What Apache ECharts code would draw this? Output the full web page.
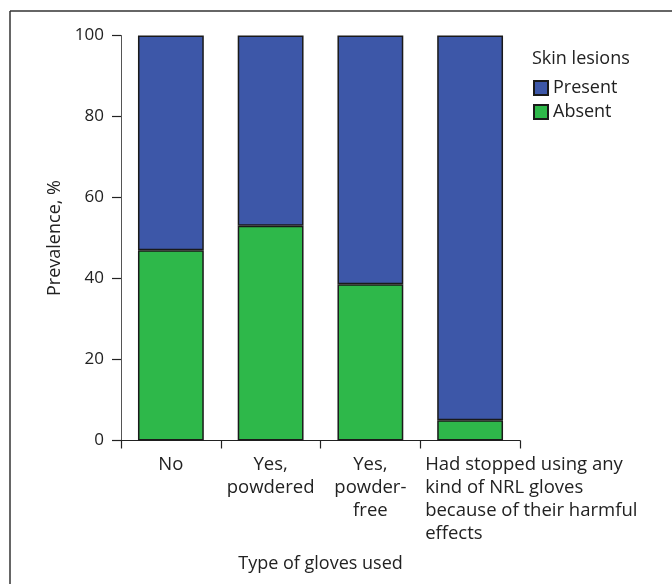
<!DOCTYPE html>
<html>
<head>
<meta charset="utf-8">
<script src="https://cdn.jsdelivr.net/npm/echarts@6/dist/echarts.min.js"></script>
<style>
html,body{margin:0;padding:0;background:#fff;}
#chart{width:672px;height:584px;}
</style>
</head>
<body>
<div id="chart"></div>
<script>
var categories = ['No', 'Yes,\npowdered', 'Yes,\npowder-\nfree', 'Had stopped using any\nkind of NRL gloves\nbecause of their harmful\neffects'];
var absentValues = [47, 53, 38.6, 5];
var presentValues = [53, 47, 61.4, 95];
var yTicks = [0, 20, 40, 60, 80, 100];
var seriesNames = ['Present', 'Absent'];
var legendTitle = 'Skin lesions';
var xAxisTitle = 'Type of gloves used';
var yAxisTitle = 'Prevalence, %';

var FONT = 'Open Sans';
var FS = 18.5;
var TXT = '#222';
var chart = echarts.init(document.getElementById('chart'));

var catData = categories.map(function (c) {
  return { value: c };
});

chart.setOption({
  animation: false,
  textStyle: { fontFamily: FONT, color: TXT },
  title: {
    text: legendTitle,
    left: 527,
    top: 45,
    textStyle: { fontFamily: FONT, fontSize: 18, fontWeight: 'normal', color: TXT }
  },
  legend: {
    orient: 'vertical',
    left: 528,
    top: 74,
    itemWidth: 14,
    itemHeight: 14,
    itemGap: 6,
    itemTextGap: 9,
    icon: 'rect',
    data: seriesNames,
    textStyle: { fontFamily: FONT, fontSize: 18, color: TXT }
  },
  graphic: [
    { type: 'line', shape: { x1: 10, y1: 11, x2: 672, y2: 11 }, style: { stroke: '#333', lineWidth: 1.5 } },
    { type: 'line', shape: { x1: 10, y1: 11, x2: 10, y2: 584 }, style: { stroke: '#333', lineWidth: 1.5 } }
  ],
  grid: { left: 121, top: 35.5, width: 399, height: 405, containLabel: false },
  xAxis: {
    type: 'category',
    data: catData,
    name: xAxisTitle,
    nameLocation: 'middle',
    nameGap: 114,
    nameTextStyle: { fontFamily: FONT, fontSize: 18, color: TXT },
    axisLine: { lineStyle: { color: '#222', width: 1.2 } },
    axisTick: { show: true, length: 8, lineStyle: { color: '#222', width: 1.2 } },
    axisLabel: {
      interval: 0,
      margin: 13,
      width: 90,
      overflow: 'none',
      fontFamily: FONT,
      fontSize: FS,
      color: TXT,
      lineHeight: 23,
      formatter: function (v, i) {
        var lines = v.split('\n');
        var key = (i === categories.length - 1) ? 'l' : 'c';
        return lines.map(function (s) { return '{' + key + '|' + s + '}'; }).join('\n');
      },
      rich: {
        c: { align: 'center', fontFamily: FONT, fontSize: FS, color: TXT, lineHeight: 23 },
        l: { align: 'left', fontFamily: FONT, fontSize: FS, color: TXT, lineHeight: 23 }
      }
    }
  },
  yAxis: {
    type: 'value',
    min: 0,
    max: 100,
    interval: 20,
    name: yAxisTitle,
    nameLocation: 'middle',
    nameGap: 56,
    nameRotate: 90,
    nameTextStyle: { fontFamily: FONT, fontSize: 18, color: TXT },
    axisLine: { show: true, lineStyle: { color: '#555', width: 1 } },
    axisTick: { show: true, length: 9, lineStyle: { color: '#222', width: 1.2 } },
    splitLine: { show: false },
    axisLabel: {
      margin: 17,
      fontFamily: FONT,
      fontSize: 17,
      color: TXT,
      formatter: function (v) { return yTicks.indexOf(v) >= 0 ? String(v) : ''; }
    }
  },
  series: [
    {
      name: seriesNames[1],
      type: 'bar',
      stack: 'total',
      barWidth: '66%',
      data: absentValues,
      itemStyle: { color: '#2eb84a', borderColor: '#1a1a1a', borderWidth: 1.5 }
    },
    {
      name: seriesNames[0],
      type: 'bar',
      stack: 'total',
      barWidth: '66%',
      data: presentValues,
      itemStyle: { color: '#3d57a8', borderColor: '#1a1a1a', borderWidth: 1.5 }
    }
  ]
});
</script>
</body>
</html>
